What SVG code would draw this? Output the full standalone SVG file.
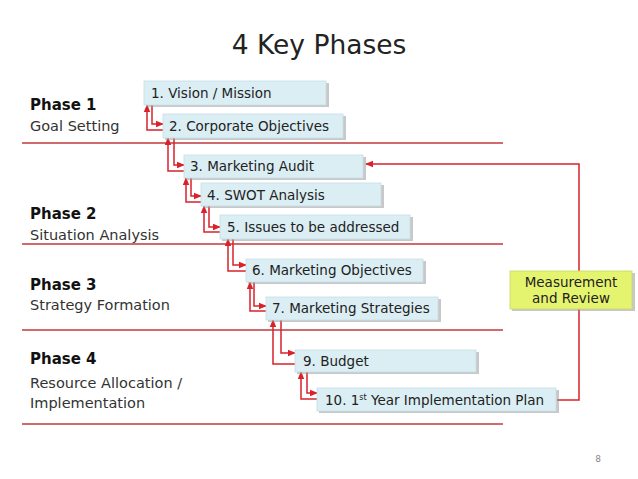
<svg xmlns="http://www.w3.org/2000/svg" width="638" height="479" viewBox="0 0 638 479">
<defs>
<marker id="ah" markerUnits="userSpaceOnUse" markerWidth="8" markerHeight="8" viewBox="0 0 8 8" refX="7" refY="4" orient="auto">
<path d="M0,0.8 L8,4 L0,7.2 Z" fill="#d8232a"/>
</marker>
</defs>
<style>
.title{font-family:"DejaVu Sans","Liberation Sans",sans-serif;font-size:26.5px;fill:#222}
.ph{font-family:"DejaVu Sans","Liberation Sans",sans-serif;font-size:15px;font-weight:bold;fill:#111}
.sub{font-family:"DejaVu Sans","Liberation Sans",sans-serif;font-size:14.5px;fill:#333}
.bt{font-family:"DejaVu Sans","Liberation Sans",sans-serif;font-size:13.5px;fill:#222}
.box{fill:#dbeef4;stroke:#c5dde6;stroke-width:0.8}
.sh{fill:#9a9a9a;opacity:0.55}
.sep{stroke:#c0393b;stroke-width:1.4;fill:none}
.con{stroke:#d8232a;stroke-width:1.5;fill:none}
.mr{fill:#e5f46f;stroke:#c9d66a;stroke-width:0.8}
</style>
<rect width="638" height="479" fill="#ffffff"/>
<text class="title" x="319" y="54" text-anchor="middle">4 Key Phases</text>

<g id="phases">
<text class="ph" x="30" y="110">Phase 1</text>
<text class="sub" x="30" y="131">Goal Setting</text>
<text class="ph" x="30" y="219">Phase 2</text>
<text class="sub" x="30" y="240">Situation Analysis</text>
<text class="ph" x="30" y="290">Phase 3</text>
<text class="sub" x="30" y="310">Strategy Formation</text>
<text class="ph" x="30" y="364">Phase 4</text>
<text class="sub" x="30" y="388">Resource Allocation /</text>
<text class="sub" x="30" y="408">Implementation</text>
</g>

<g id="separators">
<line class="sep" x1="22" y1="143" x2="503" y2="143"/>
<line class="sep" x1="22" y1="244" x2="503" y2="244"/>
<line class="sep" x1="22" y1="330" x2="503" y2="330"/>
<line class="sep" x1="22" y1="424" x2="503" y2="424"/>
</g>

<g id="connectors">
<path class="con" d="M152,105 V124 H163" marker-end="url(#ah)"/>
<path class="con" d="M163,130 H147 V105" marker-end="url(#ah)"/>
<path class="con" d="M174,138 V165 H184" marker-end="url(#ah)"/>
<path class="con" d="M184,171 H168 V138" marker-end="url(#ah)"/>
<path class="con" d="M191,178 V196 H201" marker-end="url(#ah)"/>
<path class="con" d="M201,202 H186 V178" marker-end="url(#ah)"/>
<path class="con" d="M209,206 V227 H220" marker-end="url(#ah)"/>
<path class="con" d="M220,232 H204 V206" marker-end="url(#ah)"/>
<path class="con" d="M233,239 V265 H246" marker-end="url(#ah)"/>
<path class="con" d="M246,271 H228 V239" marker-end="url(#ah)"/>
<path class="con" d="M254,282 V306 H266" marker-end="url(#ah)"/>
<path class="con" d="M266,311 H250 V282" marker-end="url(#ah)"/>
<path class="con" d="M281,320 V353 H295" marker-end="url(#ah)"/>
<path class="con" d="M295,364 H273 V320" marker-end="url(#ah)"/>
<path class="con" d="M307,372 V393 H317" marker-end="url(#ah)"/>
<path class="con" d="M317,399 H301 V372" marker-end="url(#ah)"/>
<path class="con" d="M557,400 H579 V164 H366" marker-end="url(#ah)"/>
</g>

<g id="n1"><rect class="sh" x="146" y="83" width="183" height="24"/><rect class="box" x="144" y="81" width="182" height="24"/><text class="bt" x="151" y="98">1. Vision / Mission</text></g>
<g id="n2"><rect class="sh" x="165" y="116" width="181" height="24"/><rect class="box" x="163" y="114" width="180" height="24"/><text class="bt" x="169" y="131">2. Corporate Objectives</text></g>
<g id="n3"><rect class="sh" x="186" y="157" width="180" height="23"/><rect class="box" x="184" y="155" width="179" height="23"/><text class="bt" x="190" y="171">3. Marketing Audit</text></g>
<g id="n4"><rect class="sh" x="203" y="185" width="181" height="23"/><rect class="box" x="201" y="183" width="180" height="23"/><text class="bt" x="207" y="200">4. SWOT Analysis</text></g>
<g id="n5"><rect class="sh" x="222" y="217" width="191" height="24"/><rect class="box" x="220" y="215" width="190" height="24"/><text class="bt" x="227" y="232">5. Issues to be addressed</text></g>
<g id="n6"><rect class="sh" x="248" y="261" width="178" height="23"/><rect class="box" x="246" y="259" width="177" height="23"/><text class="bt" x="252" y="275">6. Marketing Objectives</text></g>
<g id="n7"><rect class="sh" x="268" y="299" width="173" height="23"/><rect class="box" x="266" y="297" width="172" height="23"/><text class="bt" x="272" y="313">7. Marketing Strategies</text></g>
<g id="n9"><rect class="sh" x="297" y="352" width="182" height="22"/><rect class="box" x="295" y="350" width="181" height="22"/><text class="bt" x="303" y="366">9. Budget</text></g>
<g id="n10"><rect class="sh" x="319" y="390" width="240" height="23"/><rect class="box" x="317" y="388" width="239" height="23"/><text class="bt" x="325" y="405">10. 1<tspan font-size="8" dy="-5">st</tspan><tspan dy="5"> Year Implementation Plan</tspan></text></g>
<g id="measurement"><rect class="sh" x="512" y="273" width="123" height="38"/><rect class="mr" x="510" y="271" width="122" height="38"/><text class="bt" x="571" y="287" text-anchor="middle">Measurement</text><text class="bt" x="571" y="303" text-anchor="middle">and Review</text></g>

<text x="598" y="462" font-family="DejaVu Sans, sans-serif" font-size="9" fill="#888" text-anchor="middle">8</text>
</svg>
